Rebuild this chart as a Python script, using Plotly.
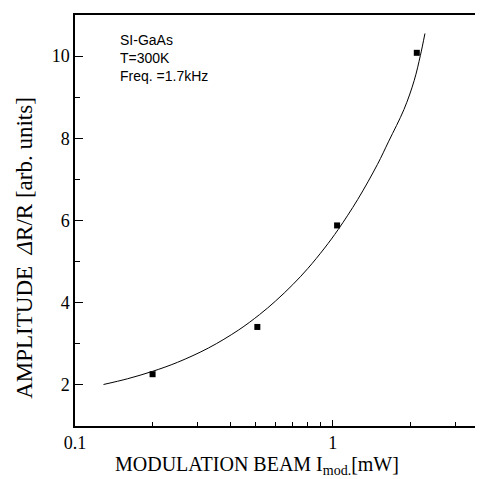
import plotly.graph_objects as go

# Measured data points
power_mw = [0.20, 0.51, 1.04, 2.12]
amplitude = [2.26, 3.41, 5.88, 10.08]

# Fitted curve
fit_x = [0.129, 0.16, 0.20, 0.25, 0.33, 0.43, 0.52, 0.60, 0.70, 0.80, 0.93, 1.05, 1.25, 1.49, 1.65, 1.89, 2.07, 2.19, 2.28]
fit_y = [2.01, 2.15, 2.33, 2.55, 2.90, 3.33, 3.71, 4.04, 4.44, 4.83, 5.33, 5.78, 6.51, 7.36, 7.93, 8.70, 9.40, 10.02, 10.55]

x_tickvals = [0.1, 1]
x_ticktext = ["0.1", "1"]
y_tickvals = [2, 4, 6, 8, 10]
y_ticktext = ["2", "4", "6", "8", "10"]

serif = "Liberation Serif, Times New Roman, serif"

fig = go.Figure()
fig.add_trace(go.Scatter(x=fit_x, y=fit_y, mode="lines",
                         line=dict(color="black", width=1, shape="spline", smoothing=1),
                         showlegend=False, hoverinfo="skip"))
fig.add_trace(go.Scatter(x=power_mw, y=amplitude, mode="markers",
                         marker=dict(symbol="square", size=6, color="black"), showlegend=False))

fig.update_layout(
    width=483, height=479,
    margin=dict(l=67, r=4, t=7, b=61),
    paper_bgcolor="white", plot_bgcolor="white",
    font=dict(family=serif, color="black"),
    annotations=[
        dict(x=0, y=1, xref="paper", yref="paper", xanchor="left", yanchor="top",
             xshift=43, yshift=-15, align="left", showarrow=False,
             text="SI-GaAs<br>T=300K<br>Freq. =1.7kHz",
             font=dict(family="Liberation Sans, Arial, sans-serif", size=14, color="black")),
        dict(x=0.444, y=-0.096, xref="paper", yref="paper", xanchor="center", yanchor="middle",
             showarrow=False, text="MODULATION BEAM I<sub>mod.</sub>[mW]",
             font=dict(size=20, family=serif, color="black")),
        dict(x=-0.124, y=0.434, xref="paper", yref="paper", xanchor="center", yanchor="middle",
             showarrow=False, textangle=-90, text="AMPLITUDE  <i>Δ</i>R/R [arb. units]",
             font=dict(size=23, family=serif, color="black")),
    ],
)

fig.update_xaxes(
    type="log", range=[-1, 0.591], showgrid=False, zeroline=False,
    showline=True, linecolor="black", linewidth=1.5, mirror=True,
    ticks="inside", ticklen=6, tickcolor="black",
    tickvals=x_tickvals, ticktext=x_ticktext,
    tickfont=dict(size=18, family=serif),
    minor=dict(ticks="inside", ticklen=4, tickcolor="black", dtick="D1", showgrid=False),
)
fig.update_yaxes(
    range=[1, 11], showgrid=False, zeroline=False,
    showline=True, linecolor="black", linewidth=1.5, mirror=True,
    ticks="inside", ticklen=8, tickcolor="black",
    tickvals=y_tickvals, ticktext=y_ticktext,
    tickfont=dict(size=18, family=serif),
    minor=dict(ticks="inside", ticklen=5, tickcolor="black", dtick=1, showgrid=False),
)

fig.write_html("out.html")
